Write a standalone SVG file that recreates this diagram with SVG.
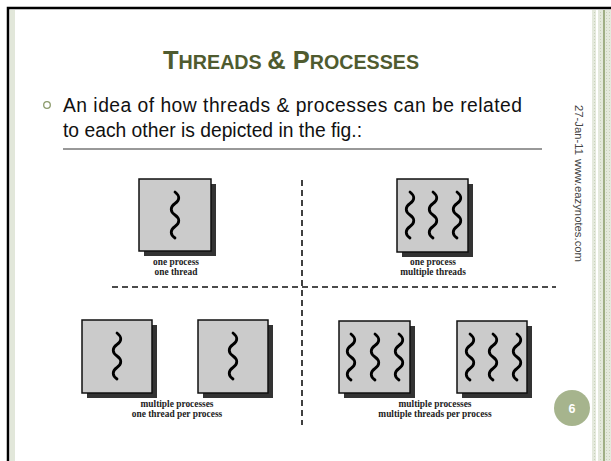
<svg xmlns="http://www.w3.org/2000/svg" width="611" height="461" viewBox="0 0 611 461">
  <defs>
    <style>
      .title { font-family: "Liberation Sans", Arial, sans-serif; font-weight: bold; fill: #4f5b2f; }
      .body { font-family: "Liberation Sans", Arial, sans-serif; font-size: 19.3px; fill: #111; }
      .side { font-family: "Liberation Sans", Arial, sans-serif; font-size: 11.3px; fill: #444; }
      .lbl { font-family: "Liberation Serif", "Times New Roman", serif; font-weight: bold; font-size: 9.4px; fill: #222; text-anchor: middle; }
      .box { fill: #cbcbcb; stroke: #111; stroke-width: 1.5; }
      .shadow { fill: #333; }
      .thread { fill: none; stroke: #000; stroke-width: 2.8; stroke-linecap: round; }
      .divider { stroke: #111; stroke-width: 1.6; stroke-dasharray: 6 4; fill: none; }
    </style>
    <!-- one wavy thread, 46px tall, drawn from its top point -->
    <path id="wave" class="thread" d="M0,0 c5,4 5,8 0,11.5 c-5,3.5 -5,8 0,11.5 c5,3.5 5,8 0,11.5 c-5,3.5 -5,8 0,11.5"/>
    <pattern id="stripe" width="3" height="3" patternUnits="userSpaceOnUse">
      <rect width="3" height="3" fill="#e4e9dc"/>
      <rect width="1" height="1" fill="#c9d2bb"/>
    </pattern>
  </defs>

  <!-- page frame -->
  <rect width="611" height="461" fill="#fff"/>
  <rect x="10" y="10" width="5" height="451" fill="#e2e7da"/>
  <rect x="592" y="10" width="4" height="451" fill="url(#stripe)"/>
  <rect x="598" y="10" width="5" height="451" fill="url(#stripe)"/>
  <rect x="603" y="10" width="2" height="451" fill="#9fae84"/>
  <rect x="605" y="10" width="6" height="451" fill="url(#stripe)"/>
  <path d="M8,461 V8 H611" fill="none" stroke="#000" stroke-width="2.5"/>

  <!-- heading -->
  <text class="title" x="163" y="69"><tspan font-size="25.5">T</tspan><tspan font-size="19.7">HREADS </tspan><tspan font-size="25.5">&amp; P</tspan><tspan font-size="19.7">ROCESSES</tspan></text>

  <!-- bullet -->
  <circle cx="47" cy="105" r="3.3" fill="none" stroke="#8b9a6b" stroke-width="1.3"/>
  <text class="body" x="63" y="112" textLength="459" lengthAdjust="spacing">An idea of how threads &amp; processes can be related</text>
  <text class="body" x="63" y="137">to each other is depicted in the fig.:</text>
  <line x1="63" y1="149" x2="542" y2="149" stroke="#333" stroke-width="1"/>

  <!-- side footer -->
  <text class="side" transform="translate(575,105) rotate(90)">27-Jan-11</text>
  <text class="side" transform="translate(575,159) rotate(90)">www.eazynotes.com</text>
  <circle cx="572" cy="408" r="18" fill="#a6b48d"/>
  <text x="572" y="412.5" text-anchor="middle" font-family="Liberation Sans, Arial, sans-serif" font-weight="bold" font-size="12.5" fill="#fff">6</text>

  <!-- quadrant dividers -->
  <g id="connectors">
    <line class="divider" x1="302" y1="180" x2="302" y2="425"/>
    <line class="divider" x1="112" y1="287" x2="556" y2="287"/>
  </g>

  <!-- one process, one thread -->
  <g id="q1">
    <rect class="shadow" x="144" y="184" width="72" height="72"/>
    <rect class="box" x="139" y="179" width="72" height="72"/>
    <use href="#wave" x="175" y="192"/>
    <text class="lbl" x="176" y="265">one process</text>
    <text class="lbl" x="176" y="275">one thread</text>
  </g>

  <!-- one process, multiple threads -->
  <g id="q2">
    <rect class="shadow" x="402" y="184" width="71" height="73"/>
    <rect class="box" x="397" y="179" width="71" height="73"/>
    <use href="#wave" x="410" y="192"/>
    <use href="#wave" x="433" y="192"/>
    <use href="#wave" x="457" y="192"/>
    <text class="lbl" x="433" y="265">one process</text>
    <text class="lbl" x="433" y="275">multiple threads</text>
  </g>

  <!-- multiple processes, one thread each -->
  <g id="q3">
    <rect class="shadow" x="87" y="325" width="70" height="73"/>
    <rect class="box" x="82" y="320" width="70" height="73"/>
    <use href="#wave" x="117" y="333"/>
    <rect class="shadow" x="203" y="325" width="70" height="73"/>
    <rect class="box" x="198" y="320" width="70" height="73"/>
    <use href="#wave" x="233" y="333"/>
    <text class="lbl" x="177" y="407">multiple processes</text>
    <text class="lbl" x="177" y="417">one thread per process</text>
  </g>

  <!-- multiple processes, multiple threads each -->
  <g id="q4">
    <rect class="shadow" x="344" y="326" width="71" height="72"/>
    <rect class="box" x="339" y="321" width="71" height="72"/>
    <use href="#wave" x="351" y="334"/>
    <use href="#wave" x="375" y="334"/>
    <use href="#wave" x="399" y="334"/>
    <rect class="shadow" x="462" y="326" width="70" height="72"/>
    <rect class="box" x="457" y="321" width="70" height="72"/>
    <use href="#wave" x="470" y="334"/>
    <use href="#wave" x="493" y="334"/>
    <use href="#wave" x="517" y="334"/>
    <text class="lbl" x="435" y="407">multiple processes</text>
    <text class="lbl" x="435" y="417">multiple threads per process</text>
  </g>
</svg>
